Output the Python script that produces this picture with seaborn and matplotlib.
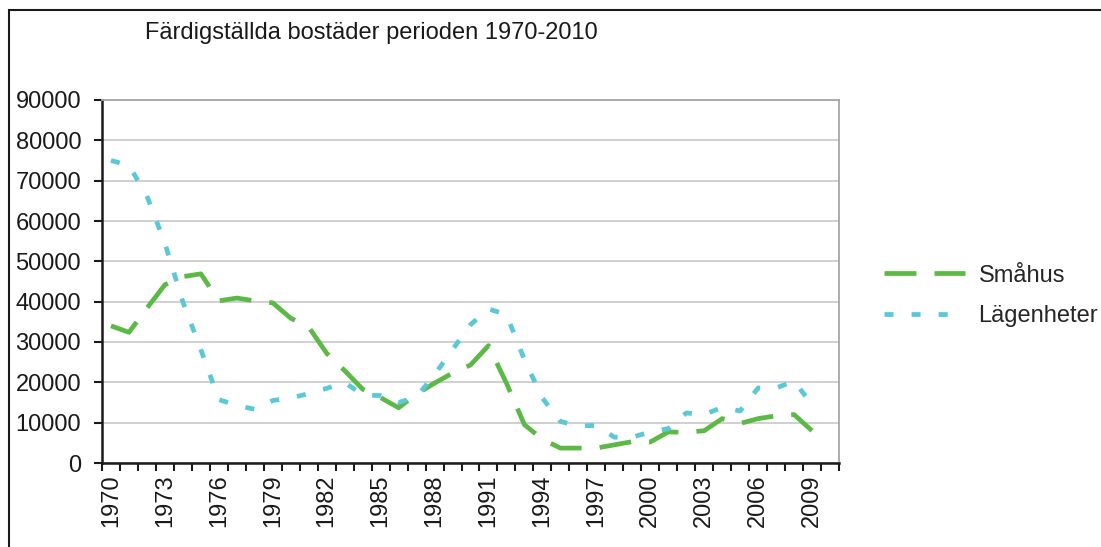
import numpy as np
import pandas as pd
import matplotlib
matplotlib.use("Agg")
import matplotlib.pyplot as plt
import matplotlib.patches as patches
from matplotlib.ticker import FixedLocator, NullFormatter
import seaborn as sns

# Data (läst från diagrammet), 1970-2009
ar = list(range(1970, 2010))
smahus = [34000, 32400, 38400, 44200, 46200, 46900, 40200, 40900, 40200, 39700,
          35900, 33700, 27200, 22900, 18300, 16200, 13700, 17100, 19800, 22300,
          24300, 29100, 19800, 9500, 5900, 3700, 3700, 3700, 4500, 5300,
          5200, 7700, 7600, 8000, 11000, 9800, 11000, 11700, 12000, 8000]
lagenheter = [75000, 73800, 66200, 54500, 39900, 28100, 15700, 14300, 13300, 15500,
              16100, 17200, 18500, 20000, 16900, 16700, 15000, 16400, 21900, 28100,
              34300, 38200, 36800, 25600, 16100, 10300, 9200, 9300, 6400, 6400,
              7700, 8500, 12400, 12000, 13800, 12900, 18600, 18600, 20300, 14500]
serier = ["Småhus", "Lägenheter"]
farger = {"Småhus": "#5DB946", "Lägenheter": "#5BC8D8"}
ytick_varden = list(range(0, 90001, 10000))
xtick_ar = list(range(1970, 2010, 3))

df = pd.DataFrame({"År": ar * 2,
                   "Antal": smahus + lagenheter,
                   "Typ": ["Småhus"] * len(ar) + ["Lägenheter"] * len(ar)})

sns.set_theme(style="white")
plt.rcParams["font.family"] = ["Liberation Sans", "DejaVu Sans"]
plt.rcParams["lines.scale_dashes"] = False

fig = plt.figure(figsize=(11.01, 5.47), dpi=100)
ax = fig.add_axes([102 / 1101, 1 - 463 / 547, (839 - 102) / 1101, (463 - 100) / 547])

sns.lineplot(data=df, x="År", y="Antal", hue="Typ", style="Typ",
             hue_order=serier, style_order=serier, palette=farger,
             dashes={"Småhus": (23, 13), "Lägenheter": (6.5, 13)},
             linewidth=3.4, ax=ax, legend=False)
for ln in ax.get_lines():
    ln.set_dash_capstyle("butt")
    ln.set_solid_joinstyle("miter")

ax.set_xlim(1969.5, 2010.5)
ax.set_ylim(0, 90000)
ax.set_yticks(ytick_varden)
ax.set_yticklabels([str(v) for v in ytick_varden], fontsize=17)
ax.set_xticks(xtick_ar)
ax.set_xticklabels([str(a) for a in xtick_ar], rotation=90, fontsize=17)
ax.xaxis.set_minor_locator(FixedLocator(np.arange(1969.5, 2011, 1)))
ax.xaxis.set_minor_formatter(NullFormatter())
ax.tick_params(axis="x", which="major", length=0, pad=8, colors="#1a1a1a")
ax.tick_params(axis="x", which="minor", bottom=True, length=6, width=1.5, color="#1a1a1a")
ax.tick_params(axis="y", left=True, length=6, width=1.5, pad=9, colors="#1a1a1a")
ax.set_xlabel("")
ax.set_ylabel("")

ax.yaxis.grid(True, color="#c8c8c8", linewidth=1.2)
ax.set_axisbelow(True)
for s in ["left", "bottom"]:
    ax.spines[s].set_color("#1a1a1a")
    ax.spines[s].set_linewidth(1.8)
for s in ["top", "right"]:
    ax.spines[s].set_color("#a6a6a6")
    ax.spines[s].set_linewidth(1.3)

# Titel
fig.text(145 / 1101, 1 - 39 / 547, "Färdigställda bostäder perioden 1970-2010",
         fontsize=17, ha="left", va="baseline", color="#1a1a1a")

# Förklaring
handles = [plt.Line2D([], [], color=farger["Småhus"], lw=3.4, dashes=(23, 13), dash_capstyle="butt"),
           plt.Line2D([], [], color=farger["Lägenheter"], lw=3.4, dashes=(6.5, 13), dash_capstyle="butt")]
fig.legend(handles, serier, loc="center left", bbox_to_anchor=(884 / 1101, 1 - 296 / 547),
           frameon=False, fontsize=17, handlelength=3.45, handletextpad=0.55,
           labelspacing=0.8, borderpad=0, borderaxespad=0)

# Ram runt diagrammet
fig.patches.append(patches.Rectangle((9 / 1101, -0.1), 1.2, 1 - 10 / 547 + 0.1,
                                     transform=fig.transFigure, fill=False,
                                     edgecolor="#1a1a1a", linewidth=1.5))

fig.savefig("out.png", dpi=100)
